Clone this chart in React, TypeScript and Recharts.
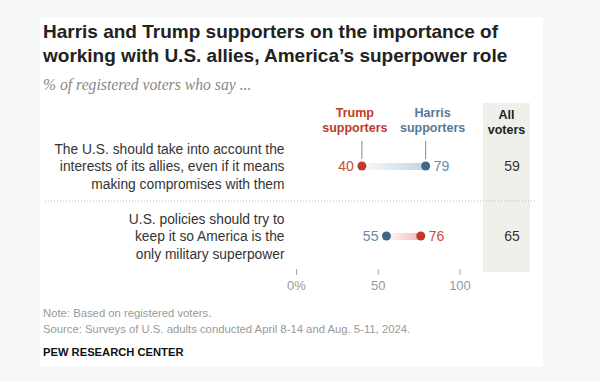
import React from "react";
import { ComposedChart, Bar, Line, XAxis, YAxis } from "recharts";

const categories = ["allies", "superpower"];
const labelLines = [
  ["The U.S. should take into account the", "interests of its allies, even if it means", "making compromises with them"],
  ["U.S. policies should try to", "keep it so America is the", "only military superpower"],
];
const trumpValues = [40, 76];
const harrisValues = [79, 55];
const allVoters = [59, 65];
const xTicks = [0, 50, 100];

const data = categories.map((c, i) => ({
  cat: c,
  trump: trumpValues[i],
  harris: harrisValues[i],
  range: [Math.min(trumpValues[i], harrisValues[i]), Math.max(trumpValues[i], harrisValues[i])],
  all: allVoters[i],
}));

const FONT = "'Liberation Sans', Arial, sans-serif";
const RED = "#bf3a27";
const RED_TXT = "#cc4a37";
const BLUE = "#3f6887";
const BLUE_TXT = "#6a89a3";
const BLUE_LEG = "#55799a";

const makeDot = (key: "trump" | "harris") => (props: any) => {
  const { cx, cy, payload, index } = props;
  if (cx == null || cy == null) return <g key={key + index} />;
  const other = key === "trump" ? payload.harris : payload.trump;
  const val = payload[key];
  const left = val < other;
  const color = key === "trump" ? RED : BLUE;
  const txtColor = key === "trump" ? RED_TXT : BLUE_TXT;
  const legX = key === "trump" ? cx - 7 : cx + 7;
  return (
    <g key={key + index}>
      {index === 0 && (
        <g>
          <line x1={cx} x2={cx} y1={cy - 25} y2={cy - 7} stroke="#888" strokeWidth={1} />
          <text x={legX} y={cy - 49} textAnchor="middle" fontFamily={FONT} fontWeight="bold" fontSize={12.5} fill={key === "trump" ? RED : BLUE_LEG}>
            {key === "trump" ? "Trump" : "Harris"}
          </text>
          <text x={legX} y={cy - 34} textAnchor="middle" fontFamily={FONT} fontWeight="bold" fontSize={12.5} fill={key === "trump" ? RED : BLUE_LEG}>
            supporters
          </text>
        </g>
      )}
      <circle cx={cx} cy={cy} r={4.5} fill={color} />
      <text x={left ? cx - 8 : cx + 8} y={cy + 5} textAnchor={left ? "end" : "start"} fontFamily={FONT} fontSize={14} fill={txtColor}>
        {val}
      </text>
    </g>
  );
};

const RangeShape = (props: any) => {
  const { x, y, width, height, payload } = props;
  const trumpHigher = payload.trump > payload.harris;
  return <rect x={x} y={y} width={width} height={height} fill={trumpHigher ? "url(#gradRed)" : "url(#gradBlue)"} />;
};

const LeftTick = (props: any) => {
  const { x, y, index } = props;
  const lines = labelLines[index] || [];
  return (
    <g>
      {index > 0 && (
        <line x1={45} x2={535} y1={y - 35} y2={y - 35} stroke="#bbb" strokeDasharray="1 2" />
      )}
      {lines.map((l, i) => (
        <text key={i} x={x - 4} y={y + (i - 1) * 17.5 + 5} textAnchor="end" fontFamily={FONT} fontSize={13.8} fill="#333">
          {l}
        </text>
      ))}
    </g>
  );
};

const RightTick = (props: any) => {
  const { x, y, index } = props;
  return (
    <text x={x + 44} y={y + 5} textAnchor="middle" fontFamily={FONT} fontSize={14} fill="#333">
      {allVoters[index]}
    </text>
  );
};

const BottomTick = (props: any) => {
  const { x, y, payload } = props;
  return (
    <g>
      <line x1={x} x2={x} y1={y - 10} y2={y - 4} stroke="#aaa" />
      <text x={x} y={y + 11} textAnchor="middle" fontFamily={FONT} fontSize={13} fill="#999">
        {payload.value === 0 ? "0%" : payload.value}
      </text>
    </g>
  );
};

export default function App() {
  return (
    <div style={{ position: "fixed", left: 0, top: 0, width: 600, height: 381, background: "#f6f7f9", overflow: "hidden" }}>
      <div style={{ position: "absolute", left: 40, top: 17, width: 503, height: 350, background: "#fff" }} />
      <div style={{ position: "absolute", left: 483, top: 103, width: 47, height: 169, background: "#f0f0ea" }} />
      <div style={{ position: "absolute", left: 43, top: 20, fontFamily: FONT, fontWeight: "bold", fontSize: 19, lineHeight: "24px", color: "#222", whiteSpace: "nowrap" }}>
        Harris and Trump supporters on the importance of
        <br />
        working with U.S. allies, America’s superpower role
      </div>
      <div style={{ position: "absolute", left: 43, top: 76, fontFamily: "'Liberation Serif', Georgia, serif", fontStyle: "italic", fontSize: 15.7, lineHeight: "18px", color: "#888", whiteSpace: "nowrap" }}>
        % of registered voters who say ...
      </div>
      <div style={{ position: "absolute", left: 483, top: 108, width: 47, textAlign: "center", fontFamily: FONT, fontWeight: "bold", fontSize: 12.5, lineHeight: "15px", color: "#222" }}>
        All
        <br />
        voters
      </div>
      <div style={{ position: "absolute", left: 0, top: 0 }}>
        <ComposedChart width={600} height={381} layout="vertical" data={data} margin={{ top: 131, right: 50, bottom: 80, left: 0 }}>
          <defs>
            <linearGradient id="gradBlue" x1="0" x2="1" y1="0" y2="0">
              <stop offset="0%" stopColor="#c3d4e1" stopOpacity={0.1} />
              <stop offset="100%" stopColor="#c3d4e1" stopOpacity={1} />
            </linearGradient>
            <linearGradient id="gradRed" x1="0" x2="1" y1="0" y2="0">
              <stop offset="0%" stopColor="#f2bdb5" stopOpacity={0.1} />
              <stop offset="100%" stopColor="#f2bdb5" stopOpacity={1} />
            </linearGradient>
          </defs>
          <XAxis type="number" domain={[0, 100]} ticks={xTicks} axisLine={false} tickLine={false} height={30} tick={<BottomTick />} interval={0} />
          <YAxis yAxisId="left" type="category" dataKey="cat" width={296.5} axisLine={false} tickLine={false} tick={<LeftTick />} interval={0} />
          <YAxis yAxisId="right" orientation="right" type="category" dataKey="cat" width={90} axisLine={false} tickLine={false} tick={<RightTick />} interval={0} />
          <Bar yAxisId="left" dataKey="range" barSize={7} shape={<RangeShape />} isAnimationActive={false} />
          <Line yAxisId="left" dataKey="harris" stroke="none" dot={makeDot("harris")} activeDot={false} isAnimationActive={false} />
          <Line yAxisId="left" dataKey="trump" stroke="none" dot={makeDot("trump")} activeDot={false} isAnimationActive={false} />
        </ComposedChart>
      </div>
      <div style={{ position: "absolute", left: 43, top: 305, fontFamily: FONT, fontSize: 11.3, lineHeight: "16px", color: "#999", whiteSpace: "nowrap" }}>
        Note: Based on registered voters.
        <br />
        Source: Surveys of U.S. adults conducted April 8-14 and Aug. 5-11, 2024.
      </div>
      <div style={{ position: "absolute", left: 43, top: 345, fontFamily: FONT, fontWeight: "bold", fontSize: 11.2, lineHeight: "15px", color: "#111", whiteSpace: "nowrap" }}>
        PEW RESEARCH CENTER
      </div>
    </div>
  );
}
